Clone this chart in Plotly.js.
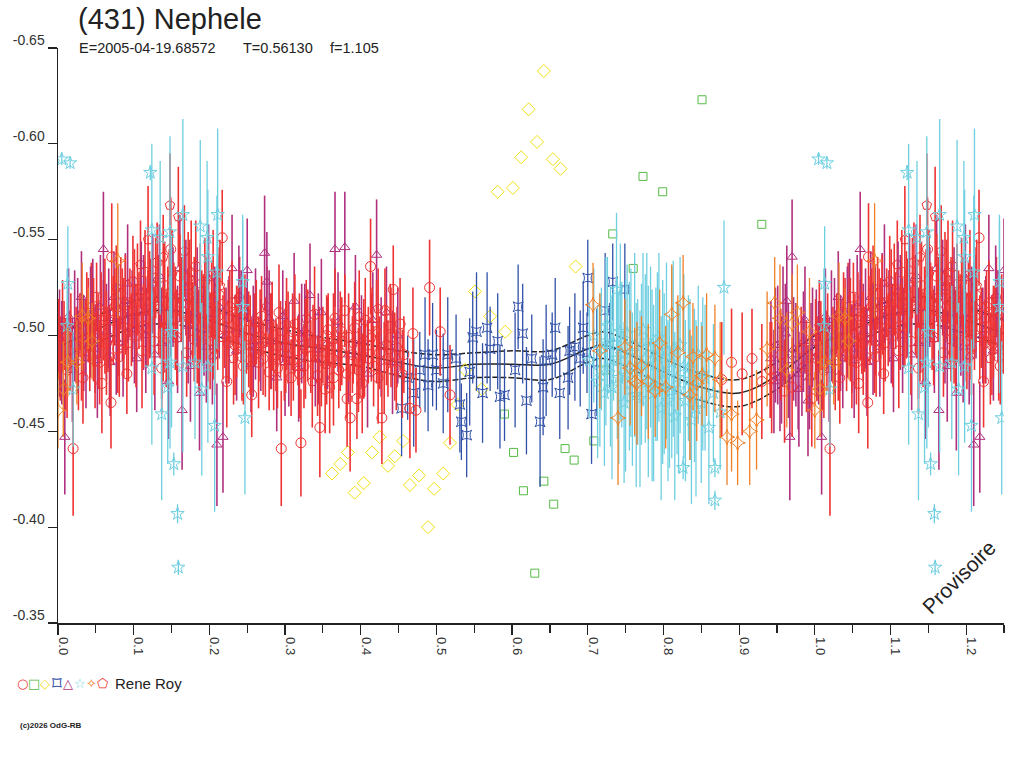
<!DOCTYPE html>
<html>
<head>
<meta charset="utf-8">
<script src="https://cdn.plot.ly/plotly-3.0.1.min.js"></script>
<style>
  body { margin: 0; background: #fff; }
  #lightcurve { width: 1024px; height: 768px; }
</style>
</head>
<body>
<div id="lightcurve"></div>
<script>
// (431) Nephele - phased lightcurve
var xTickVals = [0, 0.1, 0.2, 0.3, 0.4, 0.5, 0.6, 0.7, 0.8, 0.9, 1.0, 1.1, 1.2];
var xTickText = ['0.0', '0.1', '0.2', '0.3', '0.4', '0.5', '0.6', '0.7', '0.8', '0.9', '1.0', '1.1', '1.2'];
var yTickVals = [-0.65, -0.60, -0.55, -0.50, -0.45, -0.40, -0.35];
var yTickText = ['-0.65', '-0.60', '-0.55', '-0.50', '-0.45', '-0.40', '-0.35'];

// session 1 : red circles
var redPhase = [0.003,0.008,0.012,0.020,0.024,0.029,0.033,0.038,0.042,0.047,0.051,0.055,0.058,0.062,0.066,0.070,0.071,0.075,0.079,0.083,0.087,0.091,0.095,0.099,0.103,0.107,0.111,0.115,0.119,0.123,0.127,0.131,0.135,0.137,0.141,0.145,0.149,0.153,0.157,0.161,0.165,0.170,0.174,0.178,0.182,0.186,0.190,0.194,0.198,0.203,0.207,0.211,0.217,0.220,0.223,0.227,0.230,0.234,0.238,0.243,0.247,0.252,0.256,0.260,0.265,0.269,0.274,0.279,0.283,0.288,0.292,0.295,0.299,0.304,0.308,0.313,0.317,0.321,0.325,0.330,0.334,0.339,0.343,0.346,0.350,0.353,0.357,0.359,0.362,0.366,0.371,0.375,0.379,0.382,0.386,0.389,0.392,0.395,0.399,0.402,0.406,0.410,0.413,0.417,0.421,0.425,0.428,0.432,0.436,0.440,0.443,0.447,0.452,0.457,0.465,0.469,0.473,0.491,0.505,0.518,0.877,0.890,0.904,0.917,0.930,0.941,0.943,0.955,0.960,0.970,0.982,0.989,0.996,
  0.001,0.010,0.017,0.031,0.040,0.049,0.057,0.064,0.073,0.081,0.089,0.097,0.105,0.113,0.121,0.129,0.139,0.147,0.155,0.163,0.172,0.180,0.188,0.196,0.205,0.213,0.225,0.236,0.245,0.254,0.262,0.271,0.281,0.290,0.301,0.310,0.319,0.327,0.337,0.348,0.355,0.364,0.373,0.384,0.397,0.404,0.415,0.423,0.434,0.445];
var redMag = [-0.488,-0.500,-0.482,-0.441,-0.495,-0.506,-0.478,-0.512,-0.490,-0.503,-0.520,-0.486,-0.475,-0.510,-0.498,-0.465,-0.541,-0.515,-0.493,-0.522,-0.504,-0.480,-0.517,-0.528,-0.500,-0.513,-0.492,-0.533,-0.509,-0.521,-0.497,-0.538,-0.514,-0.483,-0.526,-0.505,-0.545,-0.518,-0.499,-0.531,-0.512,-0.491,-0.524,-0.507,-0.536,-0.497,-0.515,-0.528,-0.502,-0.519,-0.493,-0.510,-0.551,-0.504,-0.476,-0.515,-0.517,-0.495,-0.508,-0.489,-0.512,-0.498,-0.469,-0.503,-0.486,-0.510,-0.494,-0.481,-0.505,-0.490,-0.512,-0.441,-0.487,-0.499,-0.478,-0.506,-0.492,-0.444,-0.484,-0.500,-0.489,-0.511,-0.479,-0.452,-0.495,-0.472,-0.503,-0.473,-0.488,-0.509,-0.482,-0.497,-0.513,-0.467,-0.457,-0.490,-0.504,-0.467,-0.486,-0.475,-0.508,-0.495,-0.536,-0.484,-0.502,-0.491,-0.457,-0.513,-0.488,-0.499,-0.524,-0.482,-0.506,-0.490,-0.462,-0.501,-0.461,-0.525,-0.502,-0.469,-0.477,-0.486,-0.480,-0.488,-0.476,-0.482,-0.478,-0.490,-0.471,-0.473,-0.493,-0.484,-0.467,
  -0.498,-0.485,-0.503,-0.492,-0.508,-0.487,-0.513,-0.496,-0.508,-0.489,-0.516,-0.503,-0.524,-0.505,-0.516,-0.530,-0.501,-0.522,-0.509,-0.517,-0.530,-0.498,-0.512,-0.506,-0.500,-0.521,-0.496,-0.502,-0.484,-0.495,-0.507,-0.488,-0.497,-0.483,-0.494,-0.502,-0.480,-0.493,-0.497,-0.487,-0.500,-0.478,-0.491,-0.499,-0.482,-0.493,-0.505,-0.478,-0.495,-0.489];
var redErr = [0.022,0.018,0.025,0.035,0.020,0.016,0.024,0.021,0.019,0.027,0.018,0.022,0.026,0.030,0.017,0.024,0.028,0.020,0.023,0.019,0.026,0.021,0.018,0.024,0.027,0.020,0.030,0.022,0.025,0.019,0.028,0.021,0.026,0.024,0.023,0.031,0.027,0.020,0.025,0.022,0.029,0.023,0.026,0.021,0.024,0.027,0.019,0.023,0.026,0.020,0.024,0.028,0.025,0.021,0.024,0.019,0.022,0.026,0.018,0.023,0.020,0.025,0.022,0.019,0.024,0.021,0.026,0.020,0.023,0.019,0.025,0.030,0.021,0.024,0.020,0.026,0.018,0.028,0.022,0.024,0.019,0.025,0.021,0.026,0.020,0.023,0.019,0.024,0.021,0.026,0.020,0.023,0.019,0.025,0.028,0.020,0.024,0.021,0.019,0.026,0.022,0.020,0.025,0.021,0.027,0.019,0.024,0.022,0.020,0.026,0.023,0.021,0.024,0.020,0.026,0.024,0.022,0.025,0.023,0.026,0.030,0.028,0.032,0.026,0.030,0.025,0.029,0.024,0.027,0.026,0.022,0.024,0.025,
  0.021,0.024,0.019,0.026,0.022,0.025,0.020,0.027,0.023,0.021,0.026,0.019,0.024,0.022,0.028,0.021,0.025,0.023,0.027,0.020,0.024,0.022,0.026,0.019,0.023,0.025,0.021,0.024,0.020,0.026,0.022,0.019,0.025,0.021,0.024,0.020,0.023,0.026,0.019,0.024,0.021,0.025,0.020,0.023,0.022,0.026,0.020,0.024,0.021,0.023];

// session 2 : green squares
var greenPhase = [0.590,0.602,0.615,0.630,0.642,0.655,0.670,0.682,0.708,0.723,0.733,0.760,0.773,0.799,0.851,0.930];
var greenMag = [-0.459,-0.439,-0.419,-0.376,-0.424,-0.412,-0.441,-0.435,-0.445,-0.482,-0.553,-0.535,-0.583,-0.575,-0.623,-0.558];

// session 3 : yellow diamonds
var yellowPhase = [0.362,0.373,0.383,0.392,0.404,0.415,0.425,0.436,0.445,0.456,0.465,0.477,0.489,0.497,0.509,0.518,0.528,0.538,0.551,0.560,0.571,0.581,0.591,0.601,0.612,0.622,0.633,0.642,0.654,0.664,0.684];
var yellowMag = [-0.428,-0.433,-0.439,-0.418,-0.423,-0.439,-0.447,-0.432,-0.437,-0.445,-0.422,-0.427,-0.400,-0.420,-0.428,-0.444,-0.464,-0.482,-0.523,-0.472,-0.510,-0.575,-0.502,-0.577,-0.593,-0.618,-0.601,-0.638,-0.592,-0.587,-0.536];

// session 4 : blue
var bluePhase = [0.454,0.462,0.470,0.478,0.485,0.489,0.495,0.500,0.509,0.515,0.526,0.531,0.533,0.540,0.544,0.548,0.553,0.561,0.567,0.571,0.581,0.584,0.590,0.604,0.608,0.614,0.619,0.626,0.637,0.641,0.645,0.653,0.657,0.663,0.674,0.676,0.683,0.690,0.694,0.699,0.700,0.705,0.712,0.723,0.729,0.733,0.749];
var blueMag = [-0.462,-0.478,-0.470,-0.482,-0.490,-0.474,-0.490,-0.482,-0.475,-0.490,-0.488,-0.464,-0.455,-0.448,-0.481,-0.499,-0.502,-0.470,-0.504,-0.493,-0.497,-0.468,-0.469,-0.482,-0.515,-0.501,-0.466,-0.488,-0.455,-0.473,-0.487,-0.490,-0.504,-0.470,-0.478,-0.492,-0.494,-0.488,-0.504,-0.491,-0.530,-0.459,-0.486,-0.513,-0.495,-0.528,-0.524];
var blueErr = [0.025,0.022,0.028,0.020,0.030,0.024,0.027,0.021,0.026,0.030,0.023,0.025,0.020,0.022,0.028,0.024,0.031,0.026,0.029,0.022,0.025,0.027,0.024,0.030,0.022,0.026,0.028,0.023,0.034,0.025,0.029,0.022,0.026,0.024,0.027,0.023,0.028,0.025,0.024,0.021,0.020,0.026,0.028,0.030,0.022,0.020,0.024];

// session 5 : magenta triangles
var magPhase = [0.002,0.009,0.014,0.019,0.026,0.031,0.037,0.043,0.049,0.056,0.060,0.064,0.069,0.074,0.080,0.086,0.092,0.098,0.104,0.110,0.116,0.122,0.128,0.134,0.140,0.146,0.152,0.158,0.164,0.169,0.175,0.181,0.187,0.193,0.199,0.204,0.210,0.213,0.218,0.222,0.230,0.236,0.242,0.250,0.255,0.261,0.268,0.273,0.276,0.282,0.289,0.297,0.305,0.312,0.318,0.326,0.333,0.340,0.348,0.356,0.366,0.370,0.379,0.384,0.393,0.401,0.409,0.416,0.421,0.427,0.434,0.442,0.449,0.948,0.954,0.958,0.963,0.967,0.970,0.975,0.979,0.983,0.987,0.991,0.993,0.997,
  0.005,0.022,0.034,0.046,0.052,0.067,0.077,0.089,0.101,0.113,0.125,0.137,0.149,0.161,0.172,0.184,0.196,0.207,0.226,0.239,0.258,0.279,0.300,0.322,0.344,
  0.942,0.946,0.951,0.956,0.961,0.965,0.972,0.978,0.985,0.995];
var magMag = [-0.496,-0.447,-0.510,-0.482,-0.500,-0.520,-0.488,-0.507,-0.493,-0.515,-0.545,-0.502,-0.486,-0.520,-0.508,-0.494,-0.527,-0.510,-0.488,-0.523,-0.500,-0.515,-0.490,-0.531,-0.505,-0.476,-0.520,-0.498,-0.461,-0.525,-0.484,-0.512,-0.470,-0.503,-0.530,-0.489,-0.443,-0.515,-0.447,-0.500,-0.535,-0.492,-0.510,-0.534,-0.485,-0.506,-0.495,-0.543,-0.528,-0.497,-0.478,-0.510,-0.490,-0.518,-0.483,-0.503,-0.521,-0.488,-0.512,-0.496,-0.545,-0.507,-0.546,-0.490,-0.515,-0.497,-0.480,-0.508,-0.542,-0.494,-0.512,-0.486,-0.500,-0.495,-0.478,-0.505,-0.518,-0.447,-0.541,-0.490,-0.472,-0.484,-0.508,-0.466,-0.478,-0.499,
  -0.491,-0.505,-0.496,-0.512,-0.487,-0.509,-0.498,-0.518,-0.503,-0.512,-0.527,-0.496,-0.514,-0.535,-0.505,-0.520,-0.494,-0.511,-0.503,-0.521,-0.497,-0.509,-0.486,-0.501,-0.493,
  -0.488,-0.476,-0.495,-0.482,-0.501,-0.487,-0.493,-0.480,-0.497,-0.489];
var magErr = [0.028,0.030,0.025,0.027,0.030,0.024,0.026,0.029,0.023,0.027,0.030,0.025,0.028,0.024,0.029,0.026,0.031,0.024,0.028,0.026,0.030,0.025,0.029,0.027,0.024,0.030,0.026,0.028,0.031,0.025,0.029,0.026,0.030,0.024,0.028,0.025,0.032,0.027,0.029,0.025,0.028,0.026,0.024,0.027,0.025,0.029,0.024,0.030,0.026,0.025,0.028,0.024,0.027,0.025,0.028,0.024,0.027,0.025,0.028,0.024,0.030,0.026,0.029,0.025,0.027,0.024,0.028,0.025,0.029,0.026,0.024,0.027,0.025,0.030,0.028,0.031,0.029,0.033,0.030,0.027,0.030,0.026,0.028,0.029,0.027,0.026,
  0.027,0.029,0.025,0.028,0.030,0.026,0.029,0.025,0.028,0.030,0.026,0.029,0.025,0.028,0.030,0.026,0.029,0.025,0.028,0.026,0.029,0.025,0.028,0.026,0.029,
  0.030,0.027,0.031,0.028,0.026,0.030,0.027,0.029,0.026,0.028];

// session 6 : cyan stars
var cyanPhase = [0.005,0.016,0.013,0.012,0.020,0.122,0.124,0.135,0.124,0.137,0.145,0.148,0.148,0.150,0.153,0.158,0.159,0.165,0.165,0.181,0.188,0.190,0.197,0.198,0.198,0.207,0.210,0.211,0.244,0.244,0.247,0.702,0.708,0.713,0.718,0.722,0.726,0.730,0.734,0.738,0.741,0.745,0.748,0.752,0.755,0.759,0.762,0.766,0.769,0.773,0.776,0.780,0.783,0.787,0.790,0.794,0.797,0.801,0.804,0.808,0.811,0.815,0.818,0.822,0.826,0.829,0.833,0.837,0.841,0.846,0.850,0.855,0.860,0.866,0.868,0.868,0.875,0.880,
  0.716,0.724,0.732,0.739,0.743,0.750,0.757,0.764,0.771,0.778,0.785,0.792,0.799,0.806,0.813,0.820,0.827,0.835,0.843,0.852];
var cyanMag = [-0.592,-0.590,-0.527,-0.505,-0.472,-0.585,-0.555,-0.551,-0.483,-0.459,-0.473,-0.554,-0.486,-0.502,-0.433,-0.407,-0.379,-0.563,-0.484,-0.486,-0.557,-0.472,-0.551,-0.541,-0.484,-0.453,-0.533,-0.563,-0.528,-0.515,-0.457,-0.487,-0.500,-0.476,-0.493,-0.470,-0.505,-0.484,-0.496,-0.524,-0.478,-0.490,-0.465,-0.501,-0.484,-0.472,-0.495,-0.481,-0.467,-0.503,-0.488,-0.476,-0.494,-0.470,-0.485,-0.499,-0.462,-0.480,-0.492,-0.471,-0.486,-0.458,-0.478,-0.495,-0.431,-0.466,-0.483,-0.456,-0.474,-0.490,-0.465,-0.478,-0.452,-0.470,-0.431,-0.414,-0.460,-0.525,
  -0.482,-0.497,-0.473,-0.488,-0.502,-0.479,-0.491,-0.469,-0.485,-0.497,-0.474,-0.489,-0.481,-0.466,-0.493,-0.472,-0.484,-0.477,-0.462,-0.480];
var cyanErr = [0.003,0.003,0.030,0.030,0.030,0.004,0.045,0.040,0.040,0.045,0.040,0.050,0.045,0.050,0.006,0.005,0.004,0.050,0.045,0.040,0.045,0.045,0.040,0.035,0.040,0.045,0.040,0.045,0.035,0.045,0.040,0.030,0.035,0.040,0.032,0.038,0.036,0.042,0.030,0.040,0.045,0.038,0.042,0.036,0.044,0.040,0.048,0.038,0.046,0.040,0.044,0.050,0.042,0.046,0.040,0.044,0.048,0.042,0.046,0.040,0.050,0.044,0.040,0.046,0.006,0.042,0.038,0.044,0.040,0.036,0.042,0.038,0.040,0.036,0.005,0.005,0.030,0.035,
  0.040,0.044,0.048,0.042,0.046,0.050,0.044,0.048,0.042,0.046,0.050,0.044,0.048,0.042,0.046,0.044,0.048,0.042,0.046,0.040];

// session 7 : orange
var orangePhase = [0.000,0.007,0.013,0.025,0.032,0.040,0.045,0.079,0.707,0.716,0.740,0.749,0.756,0.762,0.765,0.771,0.780,0.789,0.795,0.803,0.811,0.819,0.826,0.835,0.839,0.844,0.851,0.857,0.868,0.875,0.884,0.890,0.898,0.914,0.923,0.937,0.947,0.954,0.963,0.970,0.977,0.993];
var orangeMag = [-0.461,-0.472,-0.486,-0.486,-0.510,-0.509,-0.497,-0.539,-0.516,-0.492,-0.457,-0.494,-0.483,-0.476,-0.475,-0.484,-0.476,-0.471,-0.496,-0.473,-0.511,-0.491,-0.517,-0.469,-0.489,-0.475,-0.479,-0.490,-0.488,-0.477,-0.447,-0.459,-0.444,-0.450,-0.456,-0.493,-0.517,-0.509,-0.482,-0.506,-0.512,-0.502];
var orangeErr = [0.020,0.025,0.018,0.022,0.028,0.016,0.020,0.030,0.022,0.030,0.035,0.025,0.030,0.028,0.032,0.026,0.030,0.024,0.028,0.032,0.026,0.030,0.025,0.034,0.028,0.030,0.026,0.032,0.028,0.030,0.025,0.030,0.022,0.028,0.026,0.030,0.024,0.028,0.030,0.026,0.025,0.028];

// session 8 : red pentagons
var pentPhase = [0.006,0.016,0.027,0.036,0.044,0.053,0.060,0.068,0.077,0.085,0.093,0.101,0.109,0.117,0.119,0.125,0.133,0.139,0.143,0.148,0.151,0.159,0.163,0.167,0.172,0.176,0.180,0.184,0.188,0.192,0.196,0.201,0.205,0.209,0.214,0.218,0.225,0.232,0.240,0.249,0.258,0.267,0.276,0.285,0.294,0.302,0.311,0.319,0.328,0.336,0.345,0.355,0.364,0.373,0.381,0.390,0.398,0.405,0.414,0.423,0.431,0.439,0.448,0.455];
var pentMag = [-0.505,-0.492,-0.487,-0.499,-0.515,-0.497,-0.508,-0.489,-0.525,-0.511,-0.496,-0.519,-0.537,-0.504,-0.550,-0.527,-0.516,-0.541,-0.498,-0.568,-0.532,-0.562,-0.520,-0.544,-0.509,-0.533,-0.518,-0.500,-0.527,-0.508,-0.521,-0.497,-0.532,-0.512,-0.526,-0.499,-0.509,-0.488,-0.520,-0.503,-0.491,-0.500,-0.515,-0.484,-0.498,-0.506,-0.487,-0.499,-0.509,-0.476,-0.493,-0.485,-0.498,-0.503,-0.480,-0.496,-0.510,-0.488,-0.499,-0.514,-0.483,-0.505,-0.494,-0.480];
var pentErr = [0.024,0.021,0.026,0.020,0.023,0.025,0.021,0.027,0.022,0.024,0.020,0.026,0.023,0.021,0.028,0.024,0.026,0.022,0.025,0.027,0.023,0.026,0.021,0.024,0.022,0.027,0.023,0.025,0.021,0.024,0.020,0.025,0.023,0.021,0.024,0.022,0.020,0.024,0.021,0.023,0.020,0.024,0.021,0.023,0.020,0.024,0.021,0.023,0.020,0.024,0.022,0.021,0.024,0.020,0.023,0.021,0.024,0.020,0.023,0.021,0.024,0.022,0.021,0.023];

// fitted curve and its envelope
var fitPhase = [0.00,0.05,0.10,0.15,0.20,0.25,0.30,0.35,0.40,0.45,0.50,0.55,0.60,0.65,0.70,0.72,0.75,0.80,0.85,0.90,0.95,1.00];
var fitMag = [-0.494,-0.503,-0.511,-0.513,-0.508,-0.501,-0.496,-0.493,-0.490,-0.486,-0.483,-0.485,-0.485,-0.485,-0.493,-0.495,-0.491,-0.481,-0.473,-0.470,-0.479,-0.494];
var fitUpper = [-0.500,-0.510,-0.518,-0.520,-0.515,-0.508,-0.503,-0.499,-0.496,-0.492,-0.490,-0.491,-0.492,-0.492,-0.500,-0.502,-0.498,-0.488,-0.480,-0.477,-0.486,-0.500];
var fitLower = [-0.488,-0.496,-0.504,-0.506,-0.501,-0.494,-0.489,-0.486,-0.484,-0.479,-0.476,-0.478,-0.478,-0.477,-0.486,-0.488,-0.484,-0.474,-0.466,-0.463,-0.472,-0.488];

var legendGlyphs = ['\u25CB', '\u25A1', '\u25C7', '\u2311', '\u25B3', '\u2606', '\u2727', '\u2B20'];
var legendColors = ['#ee3333', '#55bb44', '#f0e010', '#3050a8', '#b0307e', '#6ecfe0', '#f07f25', '#ee3333'];
var legendSizes = [13, 13, 13, 19, 13, 13, 13, 13];

var FONT = 'Liberation Sans, Arial, sans-serif';
var PL = 58, PT = 48, PW = 946, PH = 575;
function px(x) { return (x - PL) / PW; }
function py(y) { return (PT + PH - y) / PH; }

// phases 0..0.25 are shown again after 1.0
function wrap(ph, mg, er, keepZero) {
  var out = { x: ph.slice(), y: mg.slice(), e: er ? er.slice() : null };
  ph.forEach(function (p, i) {
    if (p <= 0.25 && (keepZero || p > 0)) {
      out.x.push(p + 1);
      out.y.push(mg[i]);
      if (er) out.e.push(er[i]);
    }
  });
  return out;
}

function points(ph, mg, er, symbol, color, size, barWidth) {
  var d = wrap(ph, mg, er, true);
  var t = {
    x: d.x, y: d.y, type: 'scatter', mode: 'markers', hoverinfo: 'none',
    marker: { symbol: symbol, color: color, size: size, line: { width: 1, color: color } }
  };
  if (er) t.error_y = { type: 'data', array: d.e, visible: true, color: color, thickness: barWidth || 1.3, width: 0 };
  return t;
}

function curve(mg, dash, w) {
  var d = wrap(fitPhase, mg, null, false);
  return { x: d.x, y: d.y, type: 'scatter', mode: 'lines', hoverinfo: 'none',
           line: { color: '#222', width: w, dash: dash, shape: 'spline' } };
}

var data = [
  curve(fitLower, '6px,2px', 1.5),
  curve(fitUpper, '6px,2px', 1.5),
  curve(fitMag, 'solid', 1.5),
  points(greenPhase, greenMag, null, 'square-open', '#55bb44', 8),
  points(yellowPhase, yellowMag, null, 'diamond-open', '#f0e010', 10),
  points(bluePhase, blueMag, blueErr, 'star-square-open', '#3050a8', 9),
  points(pentPhase, pentMag, pentErr, 'pentagon-open', '#ee3333', 10, 1.6),
  points(magPhase, magMag, magErr, 'triangle-up-open', '#b0307e', 9, 1.6),
  points(redPhase, redMag, redErr, 'circle-open', '#ee3333', 10, 1.6),
  points(cyanPhase, cyanMag, cyanErr, 'star-open', '#6ecfe0', 10),
  points(orangePhase, orangeMag, orangeErr, 'star-diamond-open', '#f07f25', 11)
];

var annotations = [
  { text: '(431) Nephele', x: px(76), y: py(19), xanchor: 'left', yanchor: 'middle',
    font: { family: FONT, size: 29, color: '#222' } },
  { text: 'E=2005-04-19.68572', x: px(77), y: py(48), xanchor: 'left', yanchor: 'middle',
    font: { family: FONT, size: 14.5, color: '#222' } },
  { text: 'T=0.56130', x: px(241), y: py(48), xanchor: 'left', yanchor: 'middle',
    font: { family: FONT, size: 14.5, color: '#222' } },
  { text: 'f=1.105', x: px(328), y: py(48), xanchor: 'left', yanchor: 'middle',
    font: { family: FONT, size: 14.5, color: '#222' } },
  { text: 'Rene Roy', x: px(113), y: py(683), xanchor: 'left', yanchor: 'middle',
    font: { family: FONT, size: 15, color: '#222' } },
  { text: '<b>(c)2026 OdG-RB</b>', x: px(18), y: py(725), xanchor: 'left', yanchor: 'middle',
    font: { family: FONT, size: 8, color: '#222' } },
  { text: 'Provisoire', x: px(958), y: py(577), xanchor: 'center', yanchor: 'middle', textangle: -45,
    font: { family: FONT, size: 21, color: '#222' } }
];
legendGlyphs.forEach(function (g, i) {
  annotations.push({ text: g, x: px(22 + i * 11.5), y: py(683), xanchor: 'center', yanchor: 'middle',
    font: { family: 'DejaVu Sans, sans-serif', size: legendSizes[i], color: legendColors[i] } });
});
annotations.forEach(function (a) { a.xref = 'paper'; a.yref = 'paper'; a.showarrow = false; });

var layout = {
  width: 1024,
  height: 768,
  margin: { l: PL, r: 1024 - PL - PW, t: PT, b: 768 - PT - PH },
  paper_bgcolor: '#fff',
  plot_bgcolor: '#fff',
  showlegend: false,
  hovermode: false,
  xaxis: {
    range: [0, 1.25], autorange: false, showgrid: false, zeroline: false,
    showline: true, linecolor: '#222', linewidth: 1.5,
    tickmode: 'array', tickvals: xTickVals, ticktext: xTickText,
    ticks: 'outside', ticklen: 10, tickwidth: 1.2, tickcolor: '#222',
    tickangle: 90, ticklabelshift: 5,
    tickfont: { family: FONT, size: 13, color: '#333' },
    minor: { tick0: 0, dtick: 0.05, ticks: 'outside', ticklen: 8, tickwidth: 1.2, tickcolor: '#222', showgrid: false }
  },
  yaxis: {
    range: [-0.35, -0.65], autorange: false, showgrid: false, zeroline: false,
    showline: true, linecolor: '#222', linewidth: 1.5,
    tickmode: 'array', tickvals: yTickVals, ticktext: yTickText,
    ticks: 'outside', ticklen: 9, tickwidth: 1.2, tickcolor: '#222',
    ticklabelshift: 8,
    tickfont: { family: FONT, size: 14, color: '#333' }
  },
  annotations: annotations
};

Plotly.newPlot('lightcurve', data, layout, { displayModeBar: false, staticPlot: true });
</script>
</body>
</html>
